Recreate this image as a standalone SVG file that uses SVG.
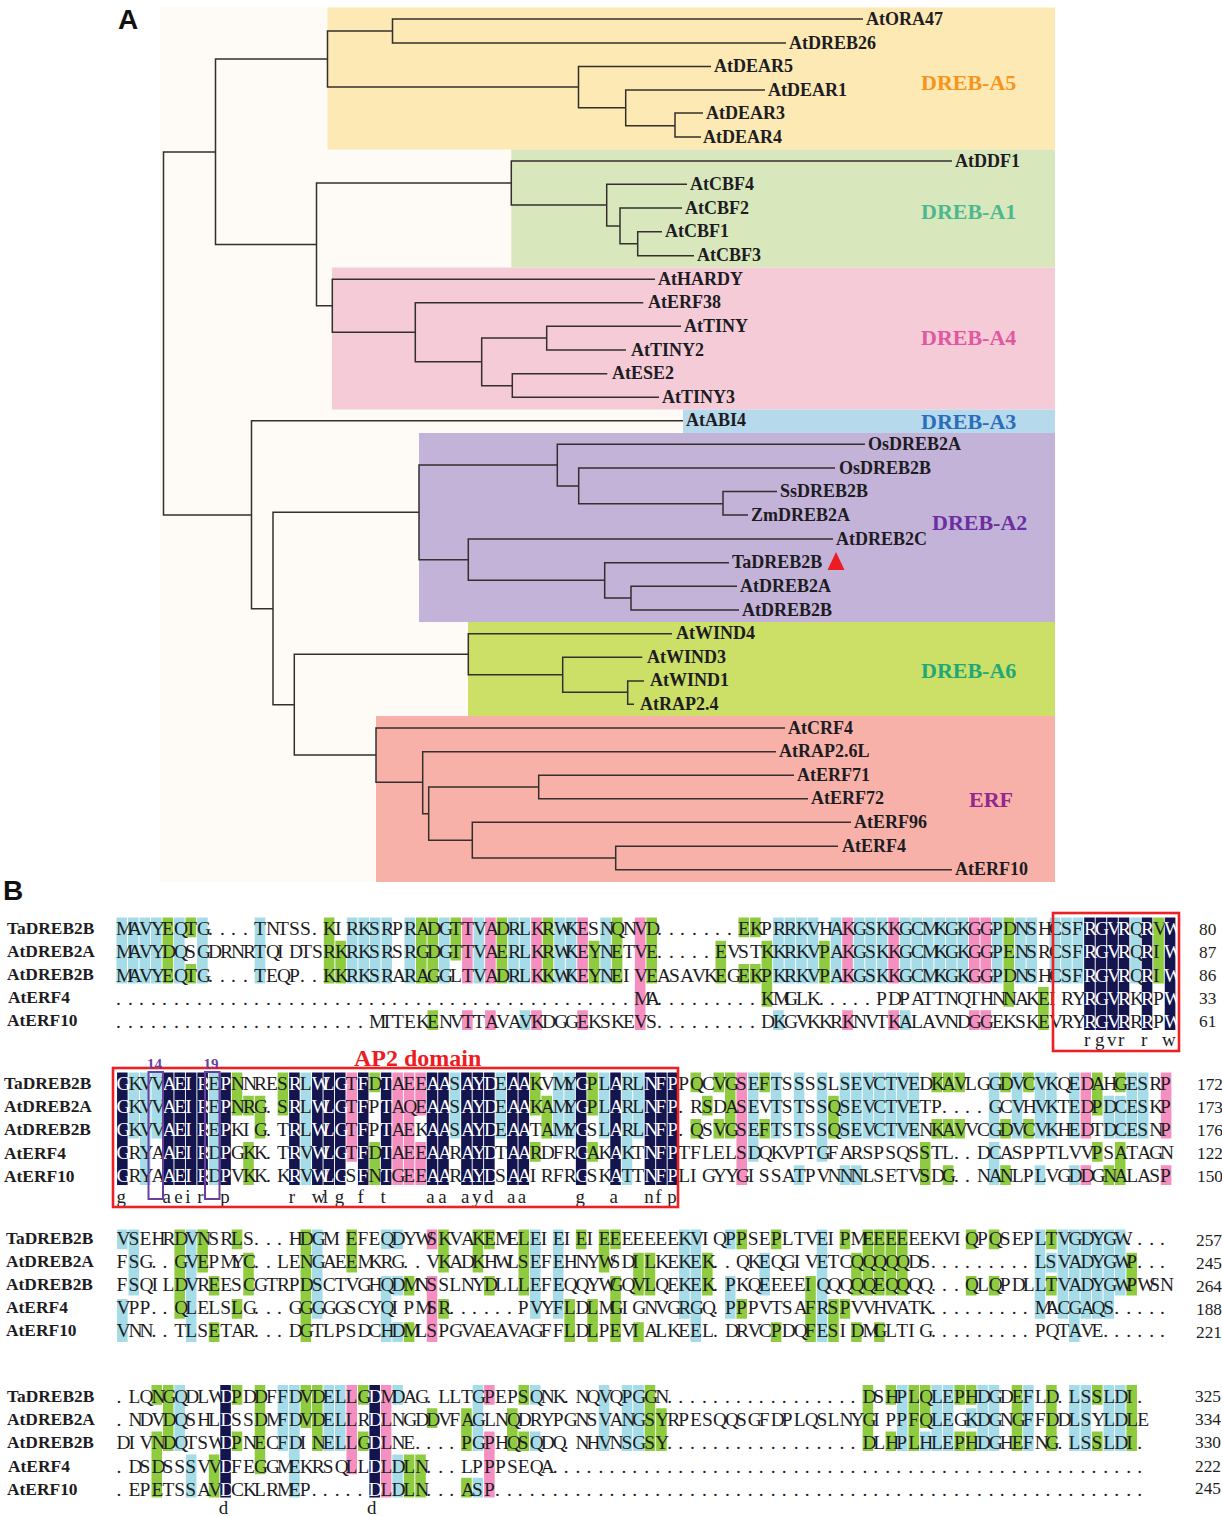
<svg xmlns="http://www.w3.org/2000/svg" width="1222" height="1516" viewBox="0 0 1222 1516">
<style>
text{font-family:"Liberation Serif","Times New Roman",serif;fill:#1c1c22}
.leaf{font-size:18px;font-weight:bold}
.cl{font-size:22px;font-weight:bold}
.nm{font-size:17.4px;font-weight:bold}
.num{font-size:17.3px}
.aa{font-size:19.5px}
.w{fill:#fff}
.co{font-size:19px}
.pan{font-family:"Liberation Sans",Arial,sans-serif;font-size:28px;font-weight:bold;fill:#111}
.tree{fill:none;stroke:#332f2c;stroke-width:1.5}
.s{fill:none;stroke-width:.92}
.cy{stroke:#a5dce8}.gr{stroke:#8fcb3f}.pk{stroke:#f48fc0}.nv{stroke:#14144f}
.rb{fill:none;stroke:#ed2024;stroke-width:2.6}
.pb{fill:none;stroke:#6b3fa0;stroke-width:2}
</style>
<g id="backgrounds">
<rect x="160" y="7.5" width="895" height="874.5" fill="#fefaf6"/>
<rect x="327.5" y="7.5" width="727.5" height="142" fill="#fde9b3"/>
<rect x="511.3" y="149.5" width="543.7" height="118" fill="#d9e8bc"/>
<rect x="332" y="267.5" width="723" height="142" fill="#f5cbd8"/>
<rect x="683" y="409.5" width="372" height="23.5" fill="#b7d9ec"/>
<rect x="419" y="433" width="636" height="189" fill="#c4b3d9"/>
<rect x="468" y="622" width="587" height="94" fill="#ccdf66"/>
<rect x="376" y="716" width="679" height="166" fill="#f8b1a8"/>
</g>
<g id="connectors">
<path class="tree" d="M215.5 152H163.5V515H251.5M327.5 59H215.5V244.5H316.5M392.5 31H327.5V87H578.5M863 19H392.5V43H786M711 66.5H578.5V107.7H625.7M765 90H625.7V125.7H675M703 113H675V137H701M511.3 183H316.5V305.7H332.3M952 161H511.3V205H606.7M687 184.3H606.7V226H620M682 208H620V243.7H637.7M662 231.7H637.7V255.7H694M655 279.3H332.3V332.3H415.3M643.3 302.7H415.3V361.7H481.7M546.7 338H481.7V385.7H512.3M681 326.3H546.7V350H626M607.3 373.7H512.3V397.3H659M683 420.7H251.5V608.7H273M419 512.3H273V704.7H294.3M557.3 465H419V559.7H468.3M865 444.3H557.3V486H578.7M835 468H578.7V503.7H723M777 491.5H723V515H748M833 539H468.3V580.3H604.7M729 562.7H604.7V598H631M737 586.3H631V610H739M468.3 654.3H294.3V755H376M672 633.7H468.3V674.7H562.7M642.3 657.3H562.7V692.3H627.7M644 681H627.7V704.3H634M785 728H376V782.3H422.7M776 751.7H422.7V813.7H428.7M538.7 787H428.7V840.3H472.3M794 775.3H538.7V798.7H808M851 822.3H472.3V858H615.7M838 846.3H615.7V869.7H952"/>
</g>
<g id="leaves" class="leaf">
<g id="AtORA47"><text x="866" y="25">AtORA47</text></g>
<g id="AtDREB26"><text x="789" y="49">AtDREB26</text></g>
<g id="AtDEAR5"><text x="714" y="72">AtDEAR5</text></g>
<g id="AtDEAR1"><text x="768" y="95.5">AtDEAR1</text></g>
<g id="AtDEAR3"><text x="706" y="119">AtDEAR3</text></g>
<g id="AtDEAR4"><text x="703" y="143">AtDEAR4</text></g>
<g id="AtDDF1"><text x="955" y="167">AtDDF1</text></g>
<g id="AtCBF4"><text x="690" y="190">AtCBF4</text></g>
<g id="AtCBF2"><text x="685" y="213.5">AtCBF2</text></g>
<g id="AtCBF1"><text x="665" y="237">AtCBF1</text></g>
<g id="AtCBF3"><text x="697" y="261">AtCBF3</text></g>
<g id="AtHARDY"><text x="658" y="284.5">AtHARDY</text></g>
<g id="AtERF38"><text x="648" y="308">AtERF38</text></g>
<g id="AtTINY"><text x="684" y="331.5">AtTINY</text></g>
<g id="AtTINY2"><text x="631" y="355.5">AtTINY2</text></g>
<g id="AtESE2"><text x="612" y="379">AtESE2</text></g>
<g id="AtTINY3"><text x="662" y="402.5">AtTINY3</text></g>
<g id="AtABI4"><text x="686" y="426">AtABI4</text></g>
<g id="OsDREB2A"><text x="868" y="449.5">OsDREB2A</text></g>
<g id="OsDREB2B"><text x="839" y="473.5">OsDREB2B</text></g>
<g id="SsDREB2B"><text x="780" y="497">SsDREB2B</text></g>
<g id="ZmDREB2A"><text x="751" y="520.5">ZmDREB2A</text></g>
<g id="AtDREB2C"><text x="836" y="544.5">AtDREB2C</text></g>
<g id="TaDREB2B"><text x="732" y="568">TaDREB2B</text><polygon points="827.5,570 844.5,570 836,552" fill="#ed1c24"/></g>
<g id="AtDREB2A"><text x="740" y="591.5">AtDREB2A</text></g>
<g id="AtDREB2B"><text x="742" y="615.5">AtDREB2B</text></g>
<g id="AtWIND4"><text x="676" y="639">AtWIND4</text></g>
<g id="AtWIND3"><text x="647" y="662.5">AtWIND3</text></g>
<g id="AtWIND1"><text x="650" y="686">AtWIND1</text></g>
<g id="AtRAP2.4"><text x="640" y="709.5">AtRAP2.4</text></g>
<g id="AtCRF4"><text x="788" y="733.5">AtCRF4</text></g>
<g id="AtRAP2.6L"><text x="779" y="757">AtRAP2.6L</text></g>
<g id="AtERF71"><text x="797" y="780.5">AtERF71</text></g>
<g id="AtERF72"><text x="811" y="804">AtERF72</text></g>
<g id="AtERF96"><text x="854" y="827.5">AtERF96</text></g>
<g id="AtERF4"><text x="842" y="851.5">AtERF4</text></g>
<g id="AtERF10"><text x="955" y="875">AtERF10</text></g>
</g>
<g id="clades" class="cl">
<g id="DREB-A5"><text x="921" y="90" style="fill:#f7941d">DREB-A5</text></g>
<g id="DREB-A1"><text x="921" y="219" style="fill:#4db88f">DREB-A1</text></g>
<g id="DREB-A4"><text x="921" y="345" style="fill:#e0589f">DREB-A4</text></g>
<g id="DREB-A3"><text x="921" y="429" style="fill:#2a6ebb">DREB-A3</text></g>
<g id="DREB-A2"><text x="932" y="530" style="fill:#6b2fa0">DREB-A2</text></g>
<g id="DREB-A6"><text x="921" y="678" style="fill:#1fa878">DREB-A6</text></g>
<g id="ERF"><text x="969" y="807" style="fill:#92278f">ERF</text></g>
</g>
<text class="pan" x="118" y="29">A</text>
<text class="pan" x="3" y="900">B</text>

<g id="shade1" transform="translate(116,917.5) scale(11.52,23.2)">
<path class="s cy" d="M.5 0v2.85M1.5 0v2.85M2.5 0v2.85M3.5 0v2.85M5.5 0v2.85M7.5 0v2.85M12.5 0v2.85M20.5 0v2.85M21.5 0v2.85M22.5 0v2.85M23.5 0v2.85M25.5 0v2.85M28.5 0v2.85M31.5 0v2.85M34.5 0v2.85M35.5 0v2.85M38.5 0v2.85M39.5 0v2.85M42.5 0v2.85M57.5 0v2.85M58.5 0v2.85M59.5 0v2.85M60.5 0v2.85M62.5 0v2.85M64.5 0v2.85M65.5 0v2.85M66.5 0v2.85M68.5 0v2.85M69.5 0v2.85M70.5 0v2.85M71.5 0v2.85M72.5 0v2.85M73.5 0v2.85M76.5 0v2.85M78.5 0v2.85M79.5 0v2.85M81.5 0v2.85M82.5 0v2.85M83.5 0v2.85M88.5 0v2.85M35.5 4v.85M57.5 4v.85M68.5 4v.85"/>
<path class="s gr" d="M4.5 0v2.85M6.5 0v.85M6.5 2v.85M18.5 0v2.85M19.5 1v1.85M26.5 0v2.85M27.5 0v2.85M27.5 4v.85M29.5 0v1.85M33.5 0v2.85M37.5 0v2.85M41.5 1v1.85M43.5 0v2.85M46.5 0v2.85M52.5 1v1.85M54.5 0v.85M54.5 2v.85M55.5 0v.85M55.5 2v.85M56.5 1v2.85M61.5 1v1.85M77.5 0v3.85M80.5 3v1.85M90.5 0v2.85"/>
<path class="s pk" d="M30.5 0v2.85M30.5 4v.85M32.5 0v2.85M32.5 4v.85M36.5 0v2.85M36.5 4v.85M40.5 0v2.85M40.5 4v.85M45.5 0v4.85M63.5 0v2.85M63.5 4v.85M67.5 0v2.85M67.5 4v.85M74.5 0v2.85M74.5 4v.85M75.5 0v2.85M75.5 4v.85"/>
<path class="s nv" d="M84.5 0v4.85M85.5 0v4.85M86.5 0v4.85M87.5 0v4.85M89.5 0v4.85M91.5 0v4.85"/>
</g>
<g id="align1" class="aa">
<text x="116 128 139 151 162 174 185 197 208 220 231 243 254 266 277 289 300 312 323 335 346 358 369 381 392 404 416 427 439 450 462 473 485 496 508 519 531 542 554 565 577 588 600 611 623 634 646 657 669 680 692 704 715 727 738 750 761 773 784 796 807 819 830 842 853 865 876 888 899 911 922 934 945 957 968 980 992 1003 1015 1026 1038 1049 1061 1072 1084 1095 1107 1118 1130 1141 1153 1164" y="935">MAVYEQTG....TNTSS.KIRKSRPRADGTTVADRLKRWKESNQNVD.......EKPRRKVHAKGSKKGCMKGKGGPDNSHCSF<tspan class="w">RGVR</tspan>Q<tspan class="w">R</tspan>V<tspan class="w">W</tspan></text>
<text x="116 128 139 151 162 174 185 197 208 220 231 243 254 266 277 289 300 312 323 335 346 358 369 381 392 404 416 427 439 450 462 473 485 496 508 519 531 542 554 565 577 588 600 611 623 634 646 657 669 680 692 704 715 727 738 750 761 773 784 796 807 819 830 842 853 865 876 888 899 911 922 934 945 957 968 980 992 1003 1015 1026 1038 1049 1061 1072 1084 1095 1107 1118 1130 1141 1153 1164" y="958">MAVYDQSGDRNRTQIDTSRKRKSRSRGDGTTVAERLKRWKEYNETVE.....EVSTKKRKVPAKGSKKGCMKGKGGPENSRCSF<tspan class="w">RGVR</tspan>Q<tspan class="w">R</tspan>I<tspan class="w">W</tspan></text>
<text x="116 128 139 151 162 174 185 197 208 220 231 243 254 266 277 289 300 312 323 335 346 358 369 381 392 404 416 427 439 450 462 473 485 496 508 519 531 542 554 565 577 588 600 611 623 634 646 657 669 680 692 704 715 727 738 750 761 773 784 796 807 819 830 842 853 865 876 888 899 911 922 934 945 957 968 980 992 1003 1015 1026 1038 1049 1061 1072 1084 1095 1107 1118 1130 1141 1153 1164" y="981.5">MAVYEQTG....TEQP..KKRKSRARAGGLTVADRLKKWKEYNEIVEASAVKEGEKPKRKVPAKGSKKGCMKGKGGPDNSHCSF<tspan class="w">RGVR</tspan>Q<tspan class="w">R</tspan>I<tspan class="w">W</tspan></text>
<text x="116 128 139 151 162 174 185 197 208 220 231 243 254 266 277 289 300 312 323 335 346 358 369 381 392 404 416 427 439 450 462 473 485 496 508 519 531 542 554 565 577 588 600 611 623 634 646 657 669 680 692 704 715 727 738 750 761 773 784 796 807 819 830 842 853 865 876 888 899 911 922 934 945 957 968 980 992 1003 1015 1026 1038 1049 1061 1072 1084 1095 1107 1118 1130 1141 1153 1164" y="1004.5">.............................................MA.........KMGLK.....PDPATTNQTHNNAKEIRY<tspan class="w">RGVR</tspan>K<tspan class="w">R</tspan>P<tspan class="w">W</tspan></text>
<text x="116 128 139 151 162 174 185 197 208 220 231 243 254 266 277 289 300 312 323 335 346 358 369 381 392 404 416 427 439 450 462 473 485 496 508 519 531 542 554 565 577 588 600 611 623 634 646 657 669 680 692 704 715 727 738 750 761 773 784 796 807 819 830 842 853 865 876 888 899 911 922 934 945 957 968 980 992 1003 1015 1026 1038 1049 1061 1072 1084 1095 1107 1118 1130 1141 1153 1164" y="1027.5">......................MTTEKENVTTAVAVKDGGEKSKEVS.........DKGVKKRKNVTKALAVNDGGEKSKEVRY<tspan class="w">RGVR</tspan>R<tspan class="w">R</tspan>P<tspan class="w">W</tspan></text>
<text class="co" x="1084 1095 1107 1118 1141 1162" y="1046">rgvrrw</text>
</g>
<g id="names1" class="nm">
<text x="7" y="934">TaDREB2B</text><text x="7" y="957">AtDREB2A</text><text x="7" y="980">AtDREB2B</text><text x="8" y="1003">AtERF4</text><text x="7" y="1026">AtERF10</text>
</g>
<g id="nums1" class="num">
<text x="1199" y="935">80</text><text x="1199" y="958">87</text><text x="1199" y="981">86</text><text x="1199" y="1004">33</text><text x="1199" y="1027">61</text>
</g>
<rect id="box-rgvr" class="rb" x="1053" y="913" width="126" height="138"/>

<g id="shade2" transform="translate(116.6,1072.5) scale(11.47,23.2)">
<path class="s cy" d="M1.5 0v2.85M3.5 0v2.85M29.5 0v2.85M33.5 0v2.85M38.5 0v2.85M39.5 0v2.85M42.5 0v2.85M45.5 0v2.85M57.5 0v2.85M59.5 0v2.85M63.5 0v2.85M64.5 0v2.85M65.5 0v2.85M66.5 0v2.85M67.5 0v2.85M68.5 0v2.85M69.5 0v2.85M76.5 0v2.85M78.5 0v2.85M80.5 0v2.85M81.5 0v2.85M83.5 0v2.85M88.5 0v2.85M89.5 0v2.85M86.5 1v1.85M87.5 1v1.85M2.5 0v4.85M8.5 0v4.85M16.5 0v4.85M44.5 0v4.85M55.5 0v3.85M61.5 0v3.85M59.5 4v.85M63.5 4v.85M64.5 4v.85M76.5 3v1.85M80.5 4v.85M83.5 4v.85"/>
<path class="s gr" d="M10.5 0v1.85M11.5 1v.85M11.5 3v1.85M12.5 1v1.85M14.5 0v1.85M22.5 0v.85M22.5 3v1.85M36.5 0v1.85M36.5 3v.85M37.5 1v1.85M41.5 0v1.85M41.5 3v.85M50.5 0v.85M50.5 2v.85M51.5 1v.85M52.5 0v.85M52.5 2v.85M53.5 0v2.85M56.5 0v.85M56.5 2v.85M62.5 1v1.85M71.5 0v.85M71.5 2v.85M72.5 0v.85M72.5 2v.85M72.5 4v.85M73.5 0v.85M73.5 2v.85M70.5 3v1.85M77.5 0v.85M77.5 2v.85M77.5 4v.85M79.5 0v.85M79.5 2v.85M85.5 0v1.85M85.5 3v.85M87.5 0v.85M87.5 3v1.85M86.5 4v.85"/>
<path class="s pk" d="M20.5 0v3.85M24.5 0v4.85M25.5 0v4.85M26.5 0v1.85M26.5 3v1.85M54.5 0v4.85M84.5 0v2.85M84.5 4v.85M91.5 0v2.85M91.5 4v.85"/>
<path class="s nv" d="M.5 0v4.85M4.5 0v4.85M5.5 0v4.85M6.5 0v4.85M7.5 0v4.85M9.5 0v4.85M15.5 0v4.85M17.5 0v4.85M18.5 0v4.85M19.5 0v4.85M21.5 0v4.85M23.5 0v4.85M27.5 0v4.85M28.5 0v4.85M30.5 0v4.85M31.5 0v4.85M32.5 0v4.85M34.5 0v4.85M35.5 0v4.85M40.5 0v4.85M43.5 0v4.85M46.5 0v4.85M47.5 0v4.85M48.5 0v4.85"/>
</g>
<g id="align2" class="aa" transform="matrix(.9957 0 0 1 1.1 0)">
<text x="116 128 139 151 162 174 185 197 208 220 231 243 254 266 277 289 300 312 323 335 346 358 369 381 392 404 416 427 439 450 462 473 485 496 508 519 531 542 554 565 577 588 600 611 623 634 646 657 669 680 692 704 715 727 738 750 761 773 784 796 807 819 830 842 853 865 876 888 899 911 922 934 945 957 968 980 992 1003 1015 1026 1038 1049 1061 1072 1084 1095 1107 1118 1130 1141 1153 1164" y="1090"><tspan class="w">G</tspan>KVV<tspan class="w">AEIR</tspan>E<tspan class="w">P</tspan>NNRES<tspan class="w">R</tspan>L<tspan class="w">WLG</tspan>T<tspan class="w">F</tspan>D<tspan class="w">T</tspan>AEE<tspan class="w">AA</tspan>S<tspan class="w">AYD</tspan>E<tspan class="w">AA</tspan>KVMY<tspan class="w">G</tspan>PL<tspan class="w">A</tspan>RL<tspan class="w">NFP</tspan>PQCVGSEFTSSSSLSEVCTVEDKAVLGGDVCVKQEDAHGESRP</text>
<text x="116 128 139 151 162 174 185 197 208 220 231 243 254 266 277 289 300 312 323 335 346 358 369 381 392 404 416 427 439 450 462 473 485 496 508 519 531 542 554 565 577 588 600 611 623 634 646 657 669 680 692 704 715 727 738 750 761 773 784 796 807 819 830 842 853 865 876 888 899 911 922 934 945 957 968 980 992 1003 1015 1026 1038 1049 1061 1072 1084 1095 1107 1118 1130 1141 1153 1164" y="1113"><tspan class="w">G</tspan>KVV<tspan class="w">AEIR</tspan>E<tspan class="w">P</tspan>NRG.S<tspan class="w">R</tspan>L<tspan class="w">WLG</tspan>T<tspan class="w">F</tspan>P<tspan class="w">T</tspan>AQE<tspan class="w">AA</tspan>S<tspan class="w">AYD</tspan>E<tspan class="w">AA</tspan>KAMY<tspan class="w">G</tspan>PL<tspan class="w">A</tspan>RL<tspan class="w">NFP</tspan>.RSDASEVTSTSSQSEVCTVETP....GCVHVKTEDPDCESKP</text>
<text x="116 128 139 151 162 174 185 197 208 220 231 243 254 266 277 289 300 312 323 335 346 358 369 381 392 404 416 427 439 450 462 473 485 496 508 519 531 542 554 565 577 588 600 611 623 634 646 657 669 680 692 704 715 727 738 750 761 773 784 796 807 819 830 842 853 865 876 888 899 911 922 934 945 957 968 980 992 1003 1015 1026 1038 1049 1061 1072 1084 1095 1107 1118 1130 1141 1153 1164" y="1136"><tspan class="w">G</tspan>KVV<tspan class="w">AEIR</tspan>E<tspan class="w">P</tspan>KIG.T<tspan class="w">R</tspan>L<tspan class="w">WLG</tspan>T<tspan class="w">F</tspan>P<tspan class="w">T</tspan>AEK<tspan class="w">AA</tspan>S<tspan class="w">AYD</tspan>E<tspan class="w">AA</tspan>TAMY<tspan class="w">G</tspan>SL<tspan class="w">A</tspan>RL<tspan class="w">NFP</tspan>.QSVGSEFTSTSSQSEVCTVENKAVVCGDVCVKHEDTDCESNP</text>
<text x="116 128 139 151 162 174 185 197 208 220 231 243 254 266 277 289 300 312 323 335 346 358 369 381 392 404 416 427 439 450 462 473 485 496 508 519 531 542 554 565 577 588 600 611 623 634 646 657 669 680 692 704 715 727 738 750 761 773 784 796 807 819 830 842 853 865 876 888 899 911 922 934 945 957 968 980 992 1003 1015 1026 1038 1049 1061 1072 1084 1095 1107 1118 1130 1141 1153 1164" y="1159.5"><tspan class="w">G</tspan>RYA<tspan class="w">AEIR</tspan>D<tspan class="w">P</tspan>GKK.T<tspan class="w">R</tspan>V<tspan class="w">WLG</tspan>T<tspan class="w">F</tspan>D<tspan class="w">T</tspan>AEE<tspan class="w">AA</tspan>R<tspan class="w">AYD</tspan>T<tspan class="w">AA</tspan>RDFR<tspan class="w">G</tspan>AK<tspan class="w">A</tspan>KT<tspan class="w">NFP</tspan>TFLELSDQKVPTGFARSPSQSSTL..DCASPPTLVVPSATAGN</text>
<text x="116 128 139 151 162 174 185 197 208 220 231 243 254 266 277 289 300 312 323 335 346 358 369 381 392 404 416 427 439 450 462 473 485 496 508 519 531 542 554 565 577 588 600 611 623 634 646 657 669 680 692 704 715 727 738 750 761 773 784 796 807 819 830 842 853 865 876 888 899 911 922 934 945 957 968 980 992 1003 1015 1026 1038 1049 1061 1072 1084 1095 1107 1118 1130 1141 1153 1164" y="1182.5"><tspan class="w">G</tspan>RYA<tspan class="w">AEIR</tspan>D<tspan class="w">P</tspan>VKK.K<tspan class="w">R</tspan>V<tspan class="w">WLG</tspan>S<tspan class="w">F</tspan>N<tspan class="w">T</tspan>GEE<tspan class="w">AA</tspan>R<tspan class="w">AYD</tspan>S<tspan class="w">AA</tspan>IRFR<tspan class="w">G</tspan>SK<tspan class="w">A</tspan>TT<tspan class="w">NFP</tspan>LIGYYGISSATPVNNNLSETVSDG..NANLPLVGDDGNALASP</text>
<text class="co" x="116 162 174 185 197 220 289 312 323 335 358 381 427 439 462 473 485 508 519 577 611 646 657 669" y="1203">gaeirprwlgftaaaydaaganfp</text>
</g>
<g id="names2" class="nm">
<text x="4" y="1089">TaDREB2B</text><text x="4" y="1112">AtDREB2A</text><text x="4" y="1135">AtDREB2B</text><text x="4" y="1159">AtERF4</text><text x="4" y="1182">AtERF10</text>
</g>
<g id="nums2" class="num">
<text x="1197" y="1090">172</text><text x="1197" y="1113">173</text><text x="1197" y="1136">176</text><text x="1197" y="1159">122</text><text x="1197" y="1182">150</text>
</g>
<rect id="box-ap2" class="rb" x="113" y="1068" width="565" height="139"/>
<rect class="pb" x="148.5" y="1072" width="14.5" height="127"/>
<rect class="pb" x="205" y="1072" width="14.5" height="127"/>
<text x="147" y="1069" style="font-size:15px;font-weight:bold;fill:#6b3fa0">14</text>
<text x="203.5" y="1069" style="font-size:15px;font-weight:bold;fill:#6b3fa0">19</text>
<text x="354" y="1066" style="font-size:24px;font-weight:bold;fill:#ed1c24">AP2 domain</text>

<g id="shade3" transform="translate(116.6,1229.5) scale(11.47,23.2)">
<path class="s cy" d="M.5 0v.85M.5 3v1.85M1.5 0v2.85M6.5 0v4.85M17.5 0v3.85M23.5 0v.85M23.5 2v2.85M24.5 0v.85M24.5 2v.85M24.5 4v.85M36.5 0v3.85M38.5 0v3.85M49.5 0v3.85M50.5 0v4.85M53.5 0v.85M53.5 2v1.85M56.5 1v1.85M61.5 0v4.85M80.5 0v3.85M81.5 1v.85M82.5 0v3.85M83.5 0v4.85M84.5 0v3.85M85.5 0v3.85M86.5 0v3.85M87.5 0v2.85"/>
<path class="s gr" d="M5.5 0v3.85M7.5 0v1.85M8.5 2v.85M8.5 4v.85M10.5 0v.85M10.5 3v.85M11.5 1v1.85M16.5 0v4.85M20.5 0v1.85M25.5 2v.85M25.5 4v.85M28.5 0v1.85M28.5 3v.85M31.5 0v1.85M32.5 0v.85M32.5 2v.85M35.5 0v2.85M39.5 3v1.85M41.5 3v1.85M40.5 0v.85M42.5 0v1.85M43.5 0v.85M43.5 2v2.85M45.5 1v1.85M45.5 4v.85M46.5 1v1.85M51.5 1v1.85M54.5 0v.85M54.5 3v.85M57.5 0v.85M57.5 4v.85M60.5 2v2.85M62.5 3v1.85M63.5 0v.85M63.5 3v.85M64.5 1v1.85M64.5 4v.85M65.5 0v2.85M66.5 0v2.85M66.5 4v.85M67.5 0v2.85M68.5 0v2.85M74.5 0v.85M74.5 2v.85M76.5 0v.85M76.5 2v.85M81.5 0v.85M81.5 2v.85M88.5 1v1.85"/>
<path class="s pk" d="M27.5 0v.85M27.5 2v2.85"/>
</g>
<g id="align3" class="aa" transform="matrix(.9957 0 0 1 1.1 0)">
<text x="116 128 139 151 162 174 185 197 208 220 231 243 254 266 277 289 300 312 323 335 346 358 369 381 392 404 416 427 439 450 462 473 485 496 508 519 531 542 554 565 577 588 600 611 623 634 646 657 669 680 692 704 715 727 738 750 761 773 784 796 807 819 830 842 853 865 876 888 899 911 922 934 945 957 968 980 992 1003 1015 1026 1038 1049 1061 1072 1084 1095 1107 1118 1130 1141 1153 1164" y="1245">VSEHRDVNSRLS...HDGM&#160;EFEQDYWSKVAKEMELEIEIEIEEEEEEEKVIQPPSEPLTVEIPMEEEEEEKVIQPQSEPLTVGDYGW....</text>
<text x="116 128 139 151 162 174 185 197 208 220 231 243 254 266 277 289 300 312 323 335 346 358 369 381 392 404 416 427 439 450 462 473 485 496 508 519 531 542 554 565 577 588 600 611 623 634 646 657 669 680 692 704 715 727 738 750 761 773 784 796 807 819 830 842 853 865 876 888 899 911 922 934 945 957 968 980 992 1003 1015 1026 1038 1049 1061 1072 1084 1095 1107 1118 1130 1141 1153 1164" y="1268">FSG..GVEPMYC..LENGAEEMKRG..VKADKHWLSEFEHNYWSDILKEKEK..QKEQGIVETCQQQQQDS.........LSVADYGWP...</text>
<text x="116 128 139 151 162 174 185 197 208 220 231 243 254 266 277 289 300 312 323 335 346 358 369 381 392 404 416 427 439 450 462 473 485 496 508 519 531 542 554 565 577 588 600 611 623 634 646 657 669 680 692 704 715 727 738 750 761 773 784 796 807 819 830 842 853 865 876 888 899 911 922 934 945 957 968 980 992 1003 1015 1026 1038 1049 1061 1072 1084 1095 1107 1118 1130 1141 1153 1164" y="1291">FSQILDVREESCGTRPDSCTVGHQDMNSSLNYDLLLEFEQQYWGQVLQEKEK.PKQEEEEIQQQQQEQQQQ...QLQPDLLTVADYGWPWSN</text>
<text x="116 128 139 151 162 174 185 197 208 220 231 243 254 266 277 289 300 312 323 335 346 358 369 381 392 404 416 427 439 450 462 473 485 496 508 519 531 542 554 565 577 588 600 611 623 634 646 657 669 680 692 704 715 727 738 750 761 773 784 796 807 819 830 842 853 865 876 888 899 911 922 934 945 957 968 980 992 1003 1015 1026 1038 1049 1061 1072 1084 1095 1107 1118 1130 1141 1153 1164" y="1314">VPP..QLELSLG...GGGGGSCYQIPMSR......PVYFLDLMGIGNVGRGQ.PPPVTSAFRSPVVHVATK.........MACGAQS.....</text>
<text x="116 128 139 151 162 174 185 197 208 220 231 243 254 266 277 289 300 312 323 335 346 358 369 381 392 404 416 427 439 450 462 473 485 496 508 519 531 542 554 565 577 588 600 611 623 634 646 657 669 680 692 704 715 727 738 750 761 773 784 796 807 819 830 842 853 865 876 888 899 911 922 934 945 957 968 980 992 1003 1015 1026 1038 1049 1061 1072 1084 1095 1107 1118 1130 1141 1153 1164" y="1337">VNN..TLSETAR...DGTLPSDCHDMLSPGVAEAVAGFFLDLPEVIALKEEL.DRVCPDQFESIDMGLTIG.........PQTAVE......</text>
</g>
<g id="names3" class="nm">
<text x="6" y="1244">TaDREB2B</text><text x="6" y="1267">AtDREB2A</text><text x="6" y="1290">AtDREB2B</text><text x="6" y="1313">AtERF4</text><text x="6" y="1336">AtERF10</text>
</g>
<g id="nums3" class="num">
<text x="1196" y="1246">257</text><text x="1196" y="1269">245</text><text x="1196" y="1292">264</text><text x="1196" y="1315">188</text><text x="1196" y="1338">221</text>
</g>

<g id="shade4" transform="translate(116.6,1385) scale(11.47,23.2)">
<path class="s cy" d="M5.5 0v2.85M6.5 3v1.85M14.5 0v2.85M15.5 0v4.85M18.5 0v2.85M19.5 0v2.85M24.5 0v.85M24.5 3v1.85M31.5 0v2.85M31.5 4v.85M36.5 0v.85M36.5 2v.85M42.5 0v2.85M44.5 0v2.85M45.5 0v2.85M68.5 0v2.85M70.5 2v.85M71.5 0v2.85M72.5 0v2.85M74.5 1v.85M75.5 0v2.85M76.5 0v2.85M79.5 0v2.85M83.5 0v2.85M84.5 0v2.85M86.5 0v2.85M87.5 0v2.85"/>
<path class="s gr" d="M3.5 0v.85M3.5 2v2.85M4.5 0v2.85M8.5 3v1.85M10.5 0v.85M10.5 2v.85M12.5 0v3.85M16.5 0v1.85M17.5 0v2.85M21.5 0v.85M21.5 2v.85M25.5 3v1.85M26.5 3v1.85M27.5 1v.85M30.5 1v1.85M30.5 4v.85M34.5 1v1.85M35.5 0v.85M35.5 2v.85M46.5 0v2.85M47.5 1v1.85M65.5 0v2.85M67.5 0v.85M67.5 2v.85M69.5 0v2.85M70.5 0v1.85M73.5 0v.85M73.5 2v.85M74.5 0v.85M74.5 2v.85M78.5 0v2.85M81.5 0v2.85M85.5 0v.85M85.5 2v.85M88.5 0v2.85"/>
<path class="s pk" d="M20.5 0v3.85M23.5 0v4.85M32.5 0v.85M32.5 2v2.85"/>
<path class="s nv" d="M9.5 0v4.85M22.5 0v4.85"/>
</g>
<g id="align4" class="aa" transform="matrix(.9957 0 0 1 1.1 0)">
<text x="116 128 139 151 162 174 185 197 208 220 231 243 254 266 277 289 300 312 323 335 346 358 369 381 392 404 416 427 439 450 462 473 485 496 508 519 531 542 554 565 577 588 600 611 623 634 646 657 669 680 692 704 715 727 738 750 761 773 784 796 807 819 830 842 853 865 876 888 899 911 922 934 945 957 968 980 992 1003 1015 1026 1038 1049 1061 1072 1084 1095 1107 1118 1130 1141 1153 1164" y="1403">.LQNGQDLW<tspan class="w">D</tspan>PDDFFDVDELLG<tspan class="w">D</tspan>MDAG.LLTGPEPSQNK.NQVQPGGN.................DSHPLQLEPHDGDEFLD.LSSLDI.</text>
<text x="116 128 139 151 162 174 185 197 208 220 231 243 254 266 277 289 300 312 323 335 346 358 369 381 392 404 416 427 439 450 462 473 485 496 508 519 531 542 554 565 577 588 600 611 623 634 646 657 669 680 692 704 715 727 738 750 761 773 784 796 807 819 830 842 853 865 876 888 899 911 922 934 945 957 968 980 992 1003 1015 1026 1038 1049 1061 1072 1084 1095 1107 1118 1130 1141 1153 1164" y="1426">.NDVDQSHL<tspan class="w">D</tspan>SSDMFDVDELLR<tspan class="w">D</tspan>LNGDDVFAGLNQDRYPGNSVANGSYRPESQQSGFDPLQSLNYGIPPFQLEGKDGNGFFDDLSYLDLE</text>
<text x="116 128 139 151 162 174 185 197 208 220 231 243 254 266 277 289 300 312 323 335 346 358 369 381 392 404 416 427 439 450 462 473 485 496 508 519 531 542 554 565 577 588 600 611 623 634 646 657 669 680 692 704 715 727 738 750 761 773 784 796 807 819 830 842 853 865 876 888 899 911 922 934 945 957 968 980 992 1003 1015 1026 1038 1049 1061 1072 1084 1095 1107 1118 1130 1141 1153 1164" y="1449">DIVNDQTSW<tspan class="w">D</tspan>PNECFDINELLG<tspan class="w">D</tspan>LNE....PGPHQSQDQ.NHVNSGSY.................DLHPLHLEPHDGHEFNG.LSSLDI.</text>
<text x="116 128 139 151 162 174 185 197 208 220 231 243 254 266 277 289 300 312 323 335 346 358 369 381 392 404 416 427 439 450 462 473 485 496 508 519 531 542 554 565 577 588 600 611 623 634 646 657 669 680 692 704 715 727 738 750 761 773 784 796 807 819 830 842 853 865 876 888 899 911 922 934 945 957 968 980 992 1003 1015 1026 1038 1049 1061 1072 1084 1095 1107 1118 1130 1141 1153 1164" y="1473">.DSDSSSVV<tspan class="w">D</tspan>FEGGMEKRSQLL<tspan class="w">D</tspan>LDLN...LPPPSEQA....................................................</text>
<text x="116 128 139 151 162 174 185 197 208 220 231 243 254 266 277 289 300 312 323 335 346 358 369 381 392 404 416 427 439 450 462 473 485 496 508 519 531 542 554 565 577 588 600 611 623 634 646 657 669 680 692 704 715 727 738 750 761 773 784 796 807 819 830 842 853 865 876 888 899 911 922 934 945 957 968 980 992 1003 1015 1026 1038 1049 1061 1072 1084 1095 1107 1118 1130 1141 1153 1164" y="1496">.EPETSSAV<tspan class="w">D</tspan>CKLRMEP.....<tspan class="w">D</tspan>LDLN...ASP.........................................................</text>
<text class="co" x="218.5 367.5" y="1514">dd</text>
</g>
<g id="names4" class="nm">
<text x="7" y="1402">TaDREB2B</text><text x="7" y="1425">AtDREB2A</text><text x="7" y="1448">AtDREB2B</text><text x="8" y="1472">AtERF4</text><text x="7" y="1495">AtERF10</text>
</g>
<g id="nums4" class="num">
<text x="1195" y="1402">325</text><text x="1195" y="1425">334</text><text x="1195" y="1448">330</text><text x="1195" y="1472">222</text><text x="1195" y="1494">245</text>
</g>
</svg>
